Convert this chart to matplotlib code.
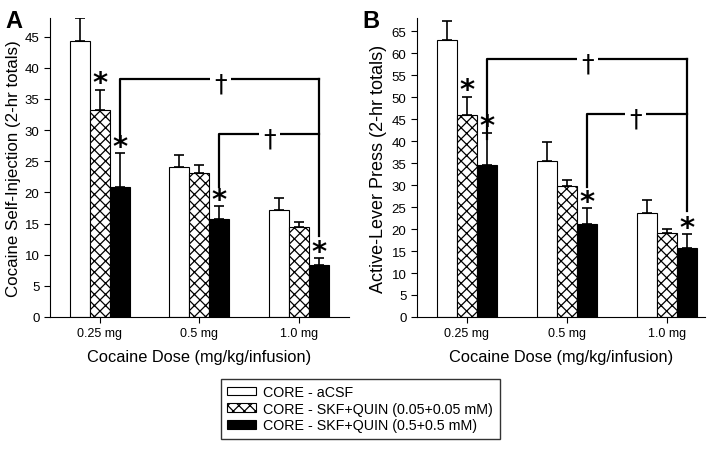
import numpy as np
import matplotlib
matplotlib.use('Agg')
from matplotlib import pyplot as plt
from matplotlib.patches import Patch

plt.rcParams['font.family'] = ['Liberation Sans', 'DejaVu Sans']
plt.rcParams['hatch.linewidth'] = 0.9

doses = ['0.25 mg', '0.5 mg', '1.0 mg']
groups = ['CORE - aCSF', 'CORE - SKF+QUIN (0.05+0.05 mM)', 'CORE - SKF+QUIN (0.5+0.5 mM)']

# panel A: cocaine self-injection
inj_mean = [[44.3, 24.0, 17.2], [33.2, 23.1, 14.4], [20.9, 15.8, 8.4]]
inj_err = [[3.7, 2.0, 1.9], [3.3, 1.3, 0.9], [5.4, 2.0, 1.1]]
# panel B: active-lever presses
lever_mean = [[63.1, 35.4, 23.6], [46.0, 29.7, 19.0], [34.6, 21.2, 15.7]]
lever_err = [[4.3, 4.3, 2.9], [4.1, 1.5, 1.0], [7.3, 3.5, 3.1]]

# stars: (group index, dose index)
inj_stars = [(1, 0), (2, 0), (2, 1), (2, 2)]
lever_stars = [(1, 0), (2, 0), (2, 1), (2, 2)]

# dagger brackets: (left x, left end y, bar y, dagger x), shared right end y
inj_brackets = [(0.2, 28.1, 38.2, 1.21), (1.2, 20.9, 29.3, 1.7)]
inj_right_end = 13.0
lever_brackets = [(0.2, 40.5, 58.7, 1.21), (1.2, 29.5, 46.1, 1.69)]
lever_right_end = 24.0

facecolors = ['white', 'white', 'black']
hatches = [None, 'xxx', None]
width = 0.2


def draw_panel(ax, means, errs, stars, ymax, ylabel, ylsize, brackets, right_end, xmax):
    x = np.arange(len(doses))
    for i in range(3):
        pos = x + (i - 1) * width
        ax.bar(pos, means[i], width, color=facecolors[i], edgecolor='black',
               hatch=hatches[i], linewidth=0.8, zorder=2)
        ax.errorbar(pos, means[i], yerr=[np.zeros(3), errs[i]], fmt='none',
                    ecolor='black', elinewidth=1.2, capsize=3.5, capthick=1.2, zorder=3)
    off = ymax * 0.021
    for g, d in stars:
        xs = d + (g - 1) * width
        ys = means[g][d] + errs[g][d] + off
        ax.text(xs, ys, '*', ha='center', va='center', fontsize=21,
                fontweight='bold', family='DejaVu Sans')
    xr = 2 + width
    for xl, yl, yb, xd in brackets:
        ax.plot([xl, xl, xr], [yl, yb, yb], color='black', lw=1.6, zorder=1)
        ax.text(xd, yb - ymax * 0.014, '\u2020', ha='center', va='center', fontsize=18,
                family='DejaVu Sans',
                bbox=dict(facecolor='white', edgecolor='none', pad=3.0), zorder=4)
    ax.plot([xr, xr], [brackets[0][2], right_end], color='black', lw=1.6, zorder=1)

    ax.set_xlim(-0.5, xmax)
    ax.set_ylim(0, ymax)
    ax.set_yticks(np.arange(0, ymax, 5))
    ax.set_xticks(x)
    ax.set_xticklabels(doses, fontsize=9)
    ax.tick_params(axis='y', labelsize=9.5, length=4)
    ax.tick_params(axis='x', length=4)
    ax.spines['top'].set_visible(False)
    ax.spines['right'].set_visible(False)
    ax.set_ylabel(ylabel, fontsize=ylsize, labelpad=3)
    ax.set_xlabel('Cocaine Dose (mg/kg/infusion)', fontsize=11.8, labelpad=7)


fig = plt.figure(figsize=(7.2, 4.52), dpi=100)
axA = fig.add_axes([0.0694, 0.2965, 0.415, 0.6615])
axB = fig.add_axes([0.579, 0.2965, 0.4, 0.6615])

draw_panel(axA, inj_mean, inj_err, inj_stars, 48,
           'Cocaine Self-Injection (2-hr totals)', 12.2,
           inj_brackets, inj_right_end, 2.5)
draw_panel(axB, lever_mean, lever_err, lever_stars, 68,
           'Active-Lever Press (2-hr totals)', 13.0,
           lever_brackets, lever_right_end, 2.38)

fig.text(0.008, 0.978, 'A', fontsize=17, fontweight='bold', va='top')
fig.text(0.503, 0.978, 'B', fontsize=17, fontweight='bold', va='top')

handles = [Patch(facecolor=facecolors[i], edgecolor='black', hatch=hatches[i], linewidth=0.8)
           for i in range(3)]
fig.legend(handles, groups, loc='upper left', bbox_to_anchor=(0.307, 0.16),
           fontsize=10.3, frameon=True, fancybox=False, edgecolor='black',
           handlelength=2.0, handleheight=0.55, labelspacing=0.18,
           handletextpad=0.5, borderpad=0.45, borderaxespad=0)

fig.savefig('out.png', dpi=100)
